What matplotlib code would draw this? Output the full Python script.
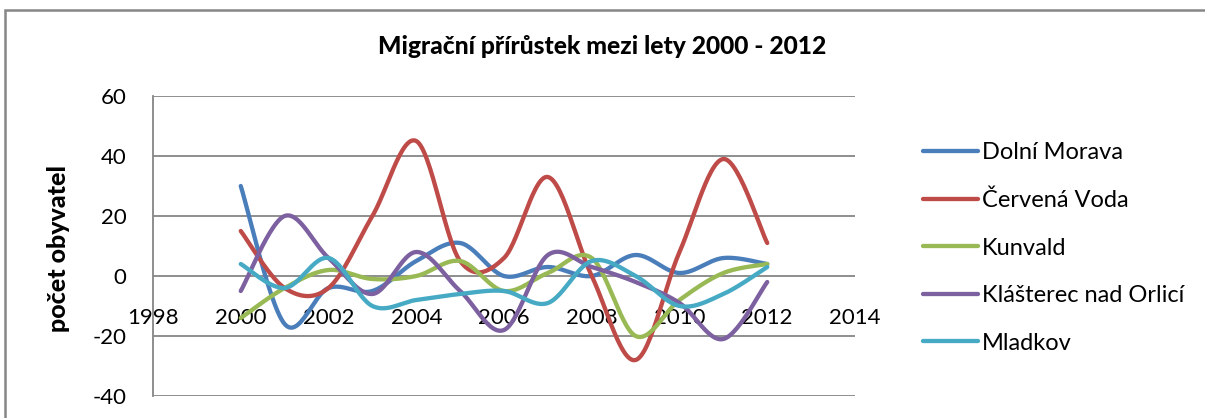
import numpy as np
import matplotlib.pyplot as plt
from matplotlib.patches import Rectangle

years = list(range(2000, 2013))
dolni_morava = [30, -16, -4, -5, 5, 11, 0, 3, 0, 7, 1, 6, 4]
cervena_voda = [15, -4, -4, 20, 45, 5, 6, 33, 0, -28, 8, 39, 11]
kunvald = [-14, -4, 2, -1, 0, 5, -5, 1, 6, -20, -8, 1, 4]
klasterec = [-5, 20, 6, -6, 8, -5, -18, 7, 3, -2, -9, -21, -2]
mladkov = [4, -4, 6, -10, -8, -6, -5, -9, 5, 0, -10, -6, 3]

names = ["Dolní Morava", "Červená Voda", "Kunvald", "Klášterec nad Orlicí", "Mladkov"]
colors = ["#4A7EBB", "#BE4B48", "#98B954", "#7D60A0", "#46AAC5"]
series = [dolni_morava, cervena_voda, kunvald, klasterec, mladkov]


def smooth(x, y, n=30):
    # catmull-rom like excel's smoothed line
    x = np.asarray(x, float)
    y = np.asarray(y, float)
    px = np.concatenate([[x[0]], x, [x[-1]]])
    py = np.concatenate([[y[0]], y, [y[-1]]])
    xs, ys = [], []
    t = np.linspace(0, 1, n)
    for i in range(1, len(px) - 2):
        p0, p1, p2, p3 = py[i - 1], py[i], py[i + 1], py[i + 2]
        q0, q1, q2, q3 = px[i - 1], px[i], px[i + 1], px[i + 2]
        c1y, c2y = p1 + (p2 - p0) / 6, p2 - (p3 - p1) / 6
        c1x, c2x = q1 + (q2 - q0) / 6, q2 - (q3 - q1) / 6
        b = [(1 - t) ** 3, 3 * (1 - t) ** 2 * t, 3 * (1 - t) * t ** 2, t ** 3]
        xs.append(b[0] * q1 + b[1] * c1x + b[2] * c2x + b[3] * q2)
        ys.append(b[0] * p1 + b[1] * c1y + b[2] * c2y + b[3] * p2)
    return np.concatenate(xs), np.concatenate(ys)


plt.rcParams['font.family'] = ['Lato', 'DejaVu Sans']
plt.rcParams['axes.unicode_minus'] = False

fig = plt.figure(figsize=(12.05, 4.18), dpi=100)
fig.patches.append(Rectangle((5 / 1205, -0.1), 1.2, (1 - 10 / 418) + 0.1,
                             transform=fig.transFigure, fill=False,
                             edgecolor="#868686", lw=1.8))
ax = fig.add_axes([153 / 1205, 22 / 418, 702 / 1205, 300 / 418])

for vals, name, c in zip(series, names, colors):
    sx, sy = smooth(years, vals)
    ax.plot(sx, sy, color=c, lw=3.1, label=name, solid_capstyle='round')

ax.set_xlim(1998, 2014)
ax.set_ylim(-40, 60)
ax.set_xticks(range(1998, 2015, 2))
ax.set_yticks(range(-40, 61, 20))
ax.grid(axis='y', color="#868686", lw=1.3)
ax.set_axisbelow(True)
for s in ['top', 'right']:
    ax.spines[s].set_visible(False)
ax.spines['bottom'].set_position(('data', 0))
ax.spines['bottom'].set_visible(False)
ax.spines['left'].set_color("#868686")
ax.spines['left'].set_linewidth(1.3)
ax.tick_params(axis='x', length=0, pad=23, labelsize=16)
ax.tick_params(axis='y', length=0, pad=19, labelsize=16)

fig.text(0.5, 1 - 47 / 418, "Migrační přírůstek mezi lety 2000 - 2012",
         ha='center', va='center', fontsize=17.7, fontweight='black')
fig.text(59 / 1205, 1 - 248 / 418, "počet obyvatel", rotation=90,
         ha='center', va='center', fontsize=18, fontweight='black')

ax.legend(loc='upper left', bbox_to_anchor=(902 / 1205, 1 - 121 / 418),
          bbox_transform=fig.transFigure, frameon=False, fontsize=17,
          handlelength=2.3, handletextpad=0.2, labelspacing=1.12)

fig.savefig("out.png", dpi=100)
